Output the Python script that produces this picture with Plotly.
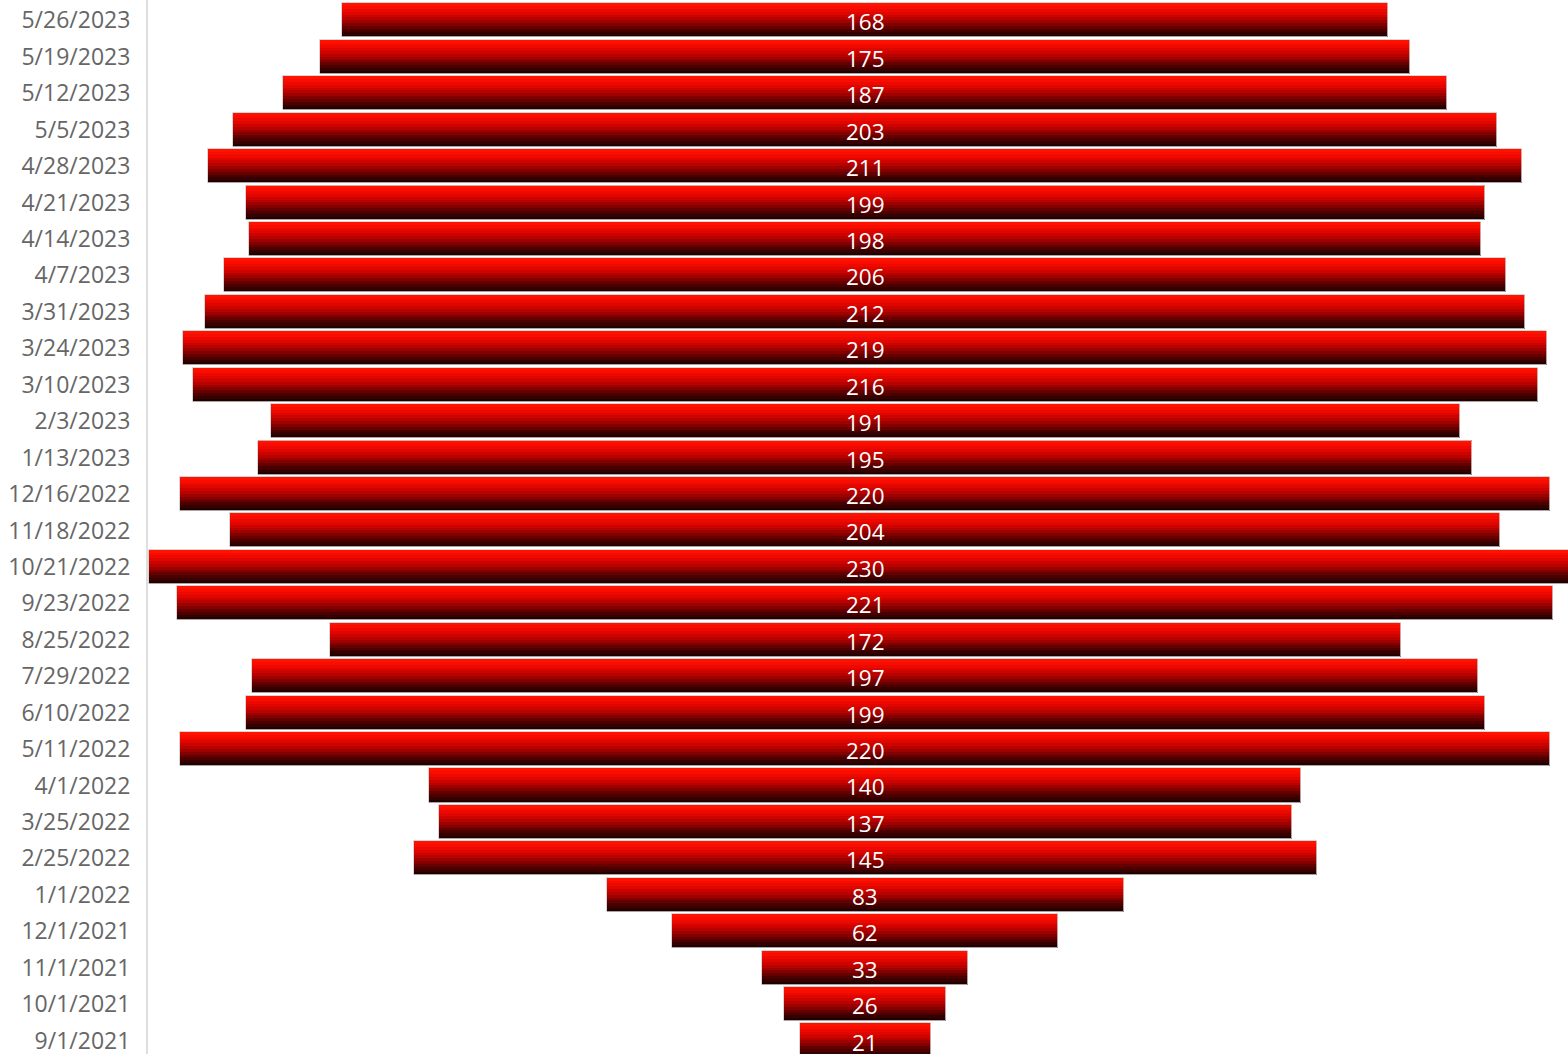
import plotly.graph_objects as go

dates = ["5/26/2023", "5/19/2023", "5/12/2023", "5/5/2023", "4/28/2023", "4/21/2023",
         "4/14/2023", "4/7/2023", "3/31/2023", "3/24/2023", "3/10/2023", "2/3/2023",
         "1/13/2023", "12/16/2022", "11/18/2022", "10/21/2022", "9/23/2022", "8/25/2022",
         "7/29/2022", "6/10/2022", "5/11/2022", "4/1/2022", "3/25/2022", "2/25/2022",
         "1/1/2022", "12/1/2021", "11/1/2021", "10/1/2021", "9/1/2021"]
counts = [168, 175, 187, 203, 211, 199, 198, 206, 212, 219, 216, 191, 195, 220, 204,
          230, 221, 172, 197, 199, 220, 140, 137, 145, 83, 62, 33, 26, 21]

# bottom-to-top order for the category axis
cats = dates[::-1]
vals = counts[::-1]
neg_half = [-v / 2 for v in vals]

# vertical gradient bands (top bright red -> bottom near black)
band_colors = ["#ff1200", "#f80d00", "#ee0900", "#e00600", "#cd0300", "#b70200",
               "#9d0100", "#820000", "#660000", "#4b0000", "#340000", "#230000"]
N = len(band_colors)
W = 0.935
bw = W / N

fig = go.Figure()
for k, col in enumerate(band_colors):
    off = W / 2 - (k + 1) * bw
    fig.add_trace(go.Bar(
        y=cats, x=vals, base=neg_half, orientation="h",
        width=bw * 1.03, offset=off,
        marker=dict(color=col, line=dict(width=0)),
        hoverinfo="skip", showlegend=False,
    ))

# thin light outline around each bar
fig.add_trace(go.Bar(
    y=cats, x=vals, base=neg_half, orientation="h",
    width=W, offset=-W / 2,
    marker=dict(color="rgba(0,0,0,0)", line=dict(width=1, color="rgba(205,205,205,0.8)")),
    hoverinfo="skip", showlegend=False,
))

annotations = [
    dict(x=0, y=c, xref="x", yref="y", text=str(v), showarrow=False, yshift=-1.5,
         font=dict(color="white", size=22.5, family="Open Sans"))
    for c, v in zip(cats, vals)
]

fig.update_layout(
    width=1568, height=1054,
    margin=dict(l=148, r=0, t=0, b=0),
    paper_bgcolor="white", plot_bgcolor="white",
    barmode="overlay", bargap=0,
    annotations=annotations,
    xaxis=dict(range=[-115.2, 112.9], visible=False, fixedrange=True),
    yaxis=dict(
        type="category", categoryorder="array", categoryarray=cats,
        range=[-0.37, 28.56], showgrid=False, zeroline=False, automargin=False,
        showline=True, linecolor="#dedede", linewidth=2,
        ticks="", ticklabelstandoff=11,
        tickfont=dict(color="#666666", size=23, family="Open Sans"),
    ),
    showlegend=False,
)

fig.write_html("out.html")
